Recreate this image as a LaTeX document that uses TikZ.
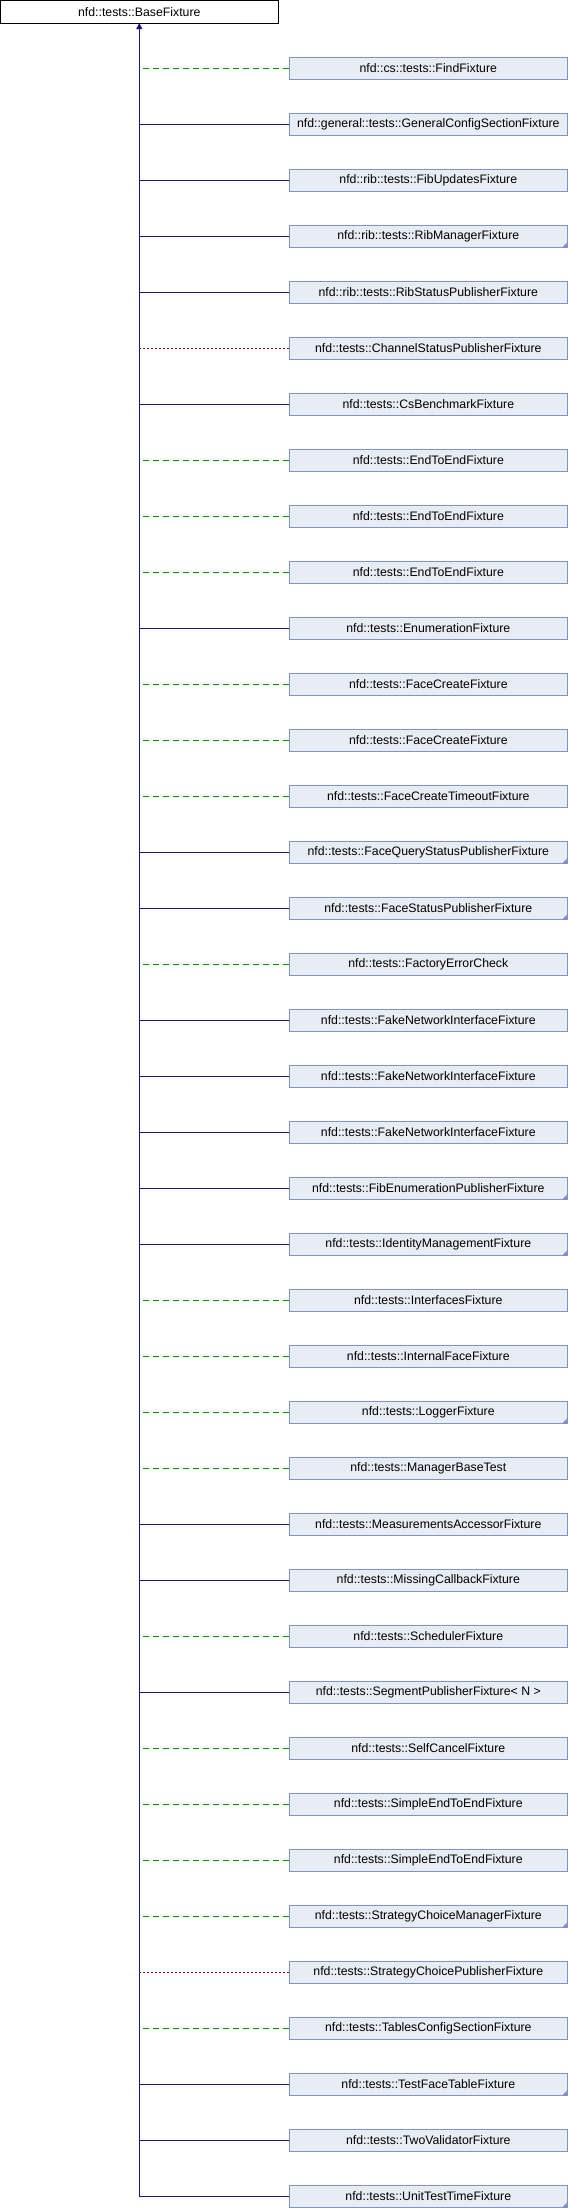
\documentclass[tikz,border=0pt]{standalone}
\usepackage{fontspec}
\setmainfont{Liberation Sans}
\usetikzlibrary{arrows.meta}
\definecolor{navyline}{RGB}{20,20,140}
\definecolor{greenline}{RGB}{0,150,0}
\definecolor{redline}{RGB}{140,20,20}
\definecolor{boxfill}{RGB}{232,236,245}
\definecolor{boxdraw}{RGB}{124,148,200}
\tikzset{
  basebox/.style={draw=black, fill=white, line width=1pt, inner sep=0pt, outer sep=0pt,
    minimum width=277.6pt, minimum height=22.6pt, font=\fontsize{12.3}{14}\selectfont},
  kidbox/.style={draw=boxdraw, fill=boxfill, line width=1pt, inner sep=0pt, outer sep=0pt,
    minimum width=278pt, minimum height=22.7pt, font=\fontsize{12.3}{14}\selectfont},
  pub/.style={draw=navyline, line width=1pt},
  prot/.style={draw=greenline, line width=1pt, dash pattern=on 6pt off 4pt},
  priv/.style={draw=redline, line width=1pt, dash pattern=on 2pt off 2pt},
  cornermark/.style={fill=boxdraw}
}
\begin{document}
\begin{tikzpicture}[x=1pt,y=-1pt]
\useasboundingbox (0,0) rectangle (568,2208);
\node[basebox, anchor=north west] (base) at (0.5,0.5) {nfd::tests::BaseFixture};
\coordinate (trunkbot) at (139.3,2196);
\draw[pub, -{Triangle[length=6pt,width=6pt]}] (trunkbot) -- (trunkbot |- base.south);
\foreach [count=\i] \lab/\rel/\mk in {
 nfd::cs::tests::FindFixture/prot/0,
 nfd::general::tests::GeneralConfigSectionFixture/pub/0,
 nfd::rib::tests::FibUpdatesFixture/pub/0,
 nfd::rib::tests::RibManagerFixture/pub/1,
 nfd::rib::tests::RibStatusPublisherFixture/pub/0,
 nfd::tests::ChannelStatusPublisherFixture/priv/0,
 nfd::tests::CsBenchmarkFixture/pub/0,
 nfd::tests::EndToEndFixture/prot/0,
 nfd::tests::EndToEndFixture/prot/0,
 nfd::tests::EndToEndFixture/prot/0,
 nfd::tests::EnumerationFixture/pub/0,
 nfd::tests::FaceCreateFixture/prot/0,
 nfd::tests::FaceCreateFixture/prot/0,
 nfd::tests::FaceCreateTimeoutFixture/prot/0,
 nfd::tests::FaceQueryStatusPublisherFixture/pub/1,
 nfd::tests::FaceStatusPublisherFixture/pub/1,
 nfd::tests::FactoryErrorCheck/prot/0,
 nfd::tests::FakeNetworkInterfaceFixture/pub/0,
 nfd::tests::FakeNetworkInterfaceFixture/pub/0,
 nfd::tests::FakeNetworkInterfaceFixture/pub/0,
 nfd::tests::FibEnumerationPublisherFixture/pub/1,
 nfd::tests::IdentityManagementFixture/pub/1,
 nfd::tests::InterfacesFixture/prot/0,
 nfd::tests::InternalFaceFixture/prot/0,
 nfd::tests::LoggerFixture/prot/1,
 nfd::tests::ManagerBaseTest/prot/0,
 nfd::tests::MeasurementsAccessorFixture/pub/0,
 nfd::tests::MissingCallbackFixture/pub/0,
 nfd::tests::SchedulerFixture/prot/0,
 nfd::tests::SegmentPublisherFixture< N >/pub/0,
 nfd::tests::SelfCancelFixture/prot/0,
 nfd::tests::SimpleEndToEndFixture/prot/0,
 nfd::tests::SimpleEndToEndFixture/prot/0,
 nfd::tests::StrategyChoiceManagerFixture/prot/1,
 nfd::tests::StrategyChoicePublisherFixture/priv/0,
 nfd::tests::TablesConfigSectionFixture/prot/0,
 nfd::tests::TestFaceTableFixture/pub/1,
 nfd::tests::TwoValidatorFixture/pub/0,
 nfd::tests::UnitTestTimeFixture/pub/1}
{
  \node[kidbox] (c\i) at (428.3,{68.5+56*(\i-1)}) {\lab};
  \draw[\rel] (c\i.west) -- (c\i.west -| trunkbot);
  \ifnum\mk=1
    \fill[cornermark] (c\i.south east) -- ++(-5.5,0) -- ++(5.5,-5.5) -- cycle;
  \fi
}
\end{tikzpicture}
\end{document}
